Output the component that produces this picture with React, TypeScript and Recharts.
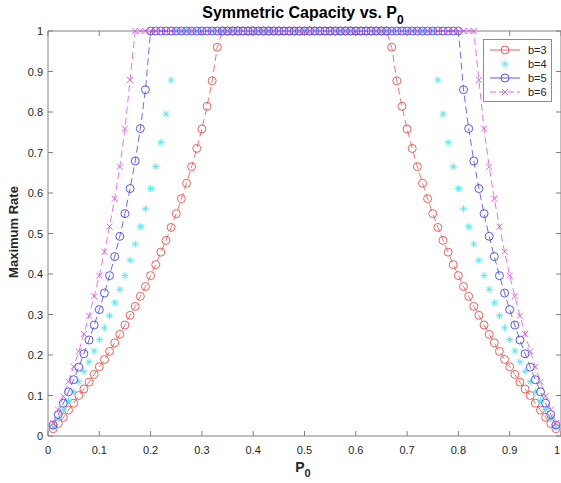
import { LineChart, Line, XAxis, YAxis, Legend, ReferenceLine } from 'recharts'

// P0 sampling grid
const p0 = [
  0.01, 0.02, 0.03, 0.04, 0.05, 0.06, 0.07, 0.08, 0.09, 0.1,
  0.11, 0.12, 0.13, 0.14, 0.15, 0.16, 0.17, 0.18, 0.19, 0.2,
  0.21, 0.22, 0.23, 0.24, 0.25, 0.26, 0.27, 0.28, 0.29, 0.3,
  0.31, 0.32, 0.33, 0.34, 0.35, 0.36, 0.37, 0.38, 0.39, 0.4,
  0.41, 0.42, 0.43, 0.44, 0.45, 0.46, 0.47, 0.48, 0.49, 0.5,
  0.51, 0.52, 0.53, 0.54, 0.55, 0.56, 0.57, 0.58, 0.59, 0.6,
  0.61, 0.62, 0.63, 0.64, 0.65, 0.66, 0.67, 0.68, 0.69, 0.7,
  0.71, 0.72, 0.73, 0.74, 0.75, 0.76, 0.77, 0.78, 0.79, 0.8,
  0.81, 0.82, 0.83, 0.84, 0.85, 0.86, 0.87, 0.88, 0.89, 0.9,
  0.91, 0.92, 0.93, 0.94, 0.95, 0.96, 0.97, 0.98, 0.99
]

const b3 = [
  0.018, 0.031, 0.046, 0.064, 0.081, 0.1, 0.116, 0.133, 0.152, 0.171,
  0.189, 0.209, 0.23, 0.251, 0.274, 0.298, 0.32, 0.345, 0.369, 0.396,
  0.423, 0.454, 0.483, 0.515, 0.549, 0.586, 0.624, 0.665, 0.71, 0.758,
  0.814, 0.877, 0.96, 1, 1, 1, 1, 1, 1, 1,
  1, 1, 1, 1, 1, 1, 1, 1, 1, 1,
  1, 1, 1, 1, 1, 1, 1, 1, 1, 1,
  1, 1, 1, 1, 1, 1, 0.96, 0.877, 0.814, 0.758,
  0.71, 0.665, 0.624, 0.586, 0.549, 0.515, 0.483, 0.454, 0.423, 0.396,
  0.369, 0.345, 0.32, 0.298, 0.274, 0.251, 0.23, 0.209, 0.189, 0.171,
  0.152, 0.133, 0.116, 0.1, 0.081, 0.064, 0.046, 0.031, 0.018
]

const b4 = [
  0.022, 0.042, 0.065, 0.087, 0.109, 0.134, 0.159, 0.183, 0.21, 0.238,
  0.267, 0.297, 0.329, 0.362, 0.396, 0.434, 0.474, 0.517, 0.561, 0.611,
  0.665, 0.725, 0.795, 0.879, 1, 1, 1, 1, 1, 1,
  1, 1, 1, 1, 1, 1, 1, 1, 1, 1,
  1, 1, 1, 1, 1, 1, 1, 1, 1, 1,
  1, 1, 1, 1, 1, 1, 1, 1, 1, 1,
  1, 1, 1, 1, 1, 1, 1, 1, 1, 1,
  1, 1, 1, 1, 1, 0.879, 0.795, 0.725, 0.665, 0.611,
  0.561, 0.517, 0.474, 0.434, 0.396, 0.362, 0.329, 0.297, 0.267, 0.238,
  0.21, 0.183, 0.159, 0.134, 0.109, 0.087, 0.065, 0.042, 0.022
]

const b5 = [
  0.027, 0.053, 0.081, 0.109, 0.139, 0.17, 0.203, 0.237, 0.274, 0.312,
  0.353, 0.396, 0.443, 0.493, 0.549, 0.611, 0.679, 0.759, 0.855, 1,
  1, 1, 1, 1, 1, 1, 1, 1, 1, 1,
  1, 1, 1, 1, 1, 1, 1, 1, 1, 1,
  1, 1, 1, 1, 1, 1, 1, 1, 1, 1,
  1, 1, 1, 1, 1, 1, 1, 1, 1, 1,
  1, 1, 1, 1, 1, 1, 1, 1, 1, 1,
  1, 1, 1, 1, 1, 1, 1, 1, 1, 1,
  0.855, 0.759, 0.679, 0.611, 0.549, 0.493, 0.443, 0.396, 0.353, 0.312,
  0.274, 0.237, 0.203, 0.17, 0.139, 0.109, 0.081, 0.053, 0.027
]

const b6 = [
  0.032, 0.065, 0.098, 0.134, 0.171, 0.209, 0.252, 0.297, 0.345, 0.396,
  0.455, 0.517, 0.586, 0.665, 0.759, 0.879, 1, 1, 1, 1,
  1, 1, 1, 1, 1, 1, 1, 1, 1, 1,
  1, 1, 1, 1, 1, 1, 1, 1, 1, 1,
  1, 1, 1, 1, 1, 1, 1, 1, 1, 1,
  1, 1, 1, 1, 1, 1, 1, 1, 1, 1,
  1, 1, 1, 1, 1, 1, 1, 1, 1, 1,
  1, 1, 1, 1, 1, 1, 1, 1, 1, 1,
  1, 1, 1, 0.879, 0.759, 0.665, 0.586, 0.517, 0.455, 0.396,
  0.345, 0.297, 0.252, 0.209, 0.171, 0.134, 0.098, 0.065, 0.032
]

const xTicks = [0, 0.1, 0.2, 0.3, 0.4, 0.5, 0.6, 0.7, 0.8, 0.9, 1]
const yTicks = [0, 0.1, 0.2, 0.3, 0.4, 0.5, 0.6, 0.7, 0.8, 0.9, 1]
const names = ['b=3', 'b=4', 'b=5', 'b=6']

const data = p0.map((p, i) => ({ p, b3: b3[i], b4: b4[i], b5: b5[i], b6: b6[i] }))

const FONT = '"Liberation Sans", Arial, Helvetica, sans-serif'
const AXIS = '#808080'
const TEXT = '#262626'
const RED = '#f0504a'
const CYAN = '#4fe6f0'
const BLUE = '#4646f5'
const MAGENTA = '#e650e6'
const PLOT_W = 513
const PLOT_H = 405

const fmt = (v: number) => (v === 0 || v === 1 ? String(v) : v.toFixed(1))

function renderXTick(props: any) {
  const { x, y, payload } = props
  // the last label sits on the right edge of the figure, keep it inside
  const last = payload.value === 1
  return (
    <g>
      <line x1={x} x2={x} y1={y} y2={y - 5} stroke={AXIS} />
      <line x1={x} x2={x} y1={y - PLOT_H} y2={y - PLOT_H + 5} stroke={AXIS} />
      <text
        x={last ? x - 1 : x}
        y={y + 18}
        textAnchor={last ? 'end' : 'middle'}
        fontSize={11}
        fill={TEXT}
        fontFamily={FONT}
      >
        {fmt(payload.value)}
      </text>
    </g>
  )
}

function renderYTick(props: any) {
  const { x, y, payload } = props
  return (
    <g>
      <line x1={x} x2={x + 5} y1={y} y2={y} stroke={AXIS} />
      <line x1={x + PLOT_W} x2={x + PLOT_W - 5} y1={y} y2={y} stroke={AXIS} />
      <text x={x - 5} y={y + 4} textAnchor='end' fontSize={11} fill={TEXT} fontFamily={FONT}>
        {fmt(payload.value)}
      </text>
    </g>
  )
}

function Circle({ cx, cy, color }: any) {
  return <circle cx={cx} cy={cy} r={4} fill='none' stroke={color} strokeWidth={0.9} />
}

function Star({ cx, cy, color }: any) {
  const s = 3.5
  const d = 2.5
  return (
    <g stroke={color} strokeWidth={0.9}>
      <line x1={cx - s} x2={cx + s} y1={cy} y2={cy} />
      <line x1={cx} x2={cx} y1={cy - s} y2={cy + s} />
      <line x1={cx - d} x2={cx + d} y1={cy - d} y2={cy + d} />
      <line x1={cx - d} x2={cx + d} y1={cy + d} y2={cy - d} />
    </g>
  )
}

function Cross({ cx, cy, color }: any) {
  const d = 3
  return (
    <g stroke={color} strokeWidth={0.9}>
      <line x1={cx - d} x2={cx + d} y1={cy - d} y2={cy + d} />
      <line x1={cx - d} x2={cx + d} y1={cy + d} y2={cy - d} />
    </g>
  )
}

const dotWith = (Shape: any, color: string) => (props: any) => {
  const { cx, cy, index } = props
  if (cx == null || cy == null) return <g key={index} />
  return <Shape key={index} cx={cx} cy={cy} color={color} />
}

function LegendBox() {
  const rows = [
    { name: names[0], color: RED, Shape: Circle, line: true, dash: undefined },
    { name: names[1], color: CYAN, Shape: Star, line: false, dash: undefined },
    { name: names[2], color: BLUE, Shape: Circle, line: true, dash: undefined },
    { name: names[3], color: MAGENTA, Shape: Cross, line: true, dash: '6 3' }
  ]
  return (
    <svg width={69} height={63} style={{ display: 'block' }}>
      <rect x={0.5} y={0.5} width={68} height={62} fill='#fff' stroke='#8c8c8c' />
      {rows.map((r, i) => {
        const y = 11 + i * 14
        return (
          <g key={r.name}>
            {r.line && (
              <line x1={7} x2={37} y1={y} y2={y} stroke={r.color} strokeWidth={0.9} strokeDasharray={r.dash} />
            )}
            <r.Shape cx={22} cy={y} color={r.color} />
            <text x={45} y={y + 4} fontSize={11} fill={TEXT} fontFamily={FONT}>
              {r.name}
            </text>
          </g>
        )
      })}
    </svg>
  )
}

export default function App() {
  return (
    <div style={{ position: 'absolute', left: 0, top: 0, width: 561, height: 483, background: '#fff', overflow: 'hidden' }}>
      <svg width={561} height={483} style={{ position: 'absolute', left: 0, top: 0, pointerEvents: 'none' }}>
        <text x={303} y={18} textAnchor='middle' fontSize={16} fontWeight='bold' fill='#000' fontFamily={FONT}>
          Symmetric Capacity vs. P<tspan dy={6} fontSize={12}>0</tspan>
        </text>
        <text x={303} y={472} textAnchor='middle' fontSize={14} fontWeight='bold' fill={TEXT} fontFamily={FONT}>
          P<tspan dy={5} fontSize={11}>0</tspan>
        </text>
        <text
          x={0}
          y={0}
          transform='translate(18 232) rotate(-90)'
          textAnchor='middle'
          fontSize={13}
          fontWeight='bold'
          fill={TEXT}
          fontFamily={FONT}
        >
          Maximum Rate
        </text>
      </svg>
      <LineChart
        width={561}
        height={483}
        data={data}
        margin={{ top: 31, right: 0, bottom: 0, left: 0 }}
        style={{ position: 'absolute', left: 0, top: 0 }}
      >
        <XAxis
          type='number'
          dataKey='p'
          domain={[0, 1]}
          ticks={xTicks}
          interval={0}
          tick={renderXTick}
          tickLine={false}
          tickSize={0}
          tickMargin={0}
          axisLine={{ stroke: AXIS }}
          height={47}
        />
        <YAxis
          type='number'
          domain={[0, 1]}
          ticks={yTicks}
          interval={0}
          tick={renderYTick}
          tickLine={false}
          tickSize={0}
          tickMargin={0}
          axisLine={{ stroke: AXIS }}
          width={48}
        />
        <ReferenceLine y={1} stroke={AXIS} />
        <ReferenceLine x={1} stroke={AXIS} />
        <Line
          dataKey='b3'
          name={names[0]}
          stroke={RED}
          strokeWidth={0.8}
          strokeDasharray='7 4'
          dot={dotWith(Circle, RED)}
          activeDot={false}
          isAnimationActive={false}
        />
        <Line
          dataKey='b4'
          name={names[1]}
          stroke='none'
          dot={dotWith(Star, CYAN)}
          activeDot={false}
          isAnimationActive={false}
        />
        <Line
          dataKey='b5'
          name={names[2]}
          stroke={BLUE}
          strokeWidth={0.8}
          strokeDasharray='7 4'
          dot={dotWith(Circle, BLUE)}
          activeDot={false}
          isAnimationActive={false}
        />
        <Line
          dataKey='b6'
          name={names[3]}
          stroke={MAGENTA}
          strokeWidth={0.8}
          strokeDasharray='7 4'
          dot={dotWith(Cross, MAGENTA)}
          activeDot={false}
          isAnimationActive={false}
        />
        <Legend
          layout='vertical'
          align='center'
          verticalAlign='middle'
          wrapperStyle={{ left: 483, top: 39, width: 69, height: 63 }}
          content={() => <LegendBox />}
        />
      </LineChart>
    </div>
  )
}
